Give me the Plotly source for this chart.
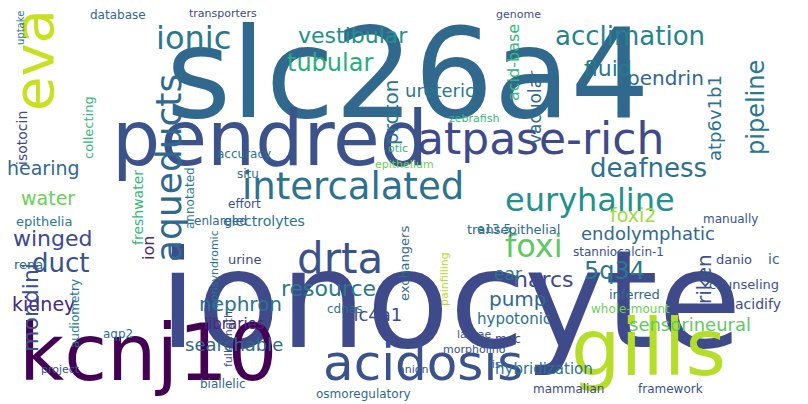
import plotly.graph_objects as go

# word cloud: word, centre x/y (pixels of the 808x404 picture), font size, vertical flag, colour
words = ["ionocyte", "slc26a4", "pendred", "gills", "kcnj10", "acidosis", "eva", "aqueducts",
         "ionic", "atpase-rich", "intercalated", "euryhaline", "deafness", "vestibular", "tubular",
         "acclimation", "fluid", "pendrin", "proton", "ureteric", "acid-base", "vacuolar",
         "atp6v1b1", "pipeline", "hearing", "water", "winged", "duct", "kidney", "drta", "foxi",
         "foxi2", "endolymphatic", "5q34", "narcs", "pump", "nephron", "resource", "mondini",
         "searchable", "slc4a1", "sensorineural", "riken", "hybridization", "osmoregulatory",
         "mammalian", "framework", "biallelic", "libraries", "audiometry", "isotocin",
         "transepithelial", "electrolytes", "stanniocalcin-1", "collecting", "annotated",
         "database", "transporters", "situ", "accuracy", "effort", "enlarged", "otic",
         "epithelium", "zebrafish", "hypotonic", "acidify", "counseling", "ic", "manually",
         "danio", "ear", "inferred", "mgc", "fish", "anion", "morpholino", "cdnas", "exchangers",
         "painfilling", "e13.5", "larvae", "nonsyndromic", "full-length", "renal", "epithelia",
         "urine", "aqp2", "project", "whole-mount", "ion", "freshwater", "uptake", "genome"]
xs = [442, 400, 262, 640, 140, 415, 25, 160, 185, 532, 345, 582, 640, 345, 322, 622, 600, 657,
      383, 432, 505, 527, 706, 748, 35, 40, 45, 52, 35, 332, 526, 625, 640, 606, 536, 510, 232,
      320, 22, 226, 365, 682, 696, 536, 355, 560, 662, 215, 226, 67, 14, 505, 256, 610, 80,
      182, 110, 215, 240, 236, 236, 212, 390, 396, 466, 506, 750, 736, 766, 722, 726, 500, 626,
      500, 490, 405, 466, 336, 396, 436, 486, 466, 206, 220, 22, 36, 236, 110, 52, 622, 140,
      130, 12, 510]
ys = [292, 65, 130, 340, 345, 355, 52, 160, 30, 130, 178, 192, 160, 27, 55, 28, 60, 70,
      105, 82, 55, 100, 110, 100, 160, 190, 230, 255, 296, 250, 238, 207, 225, 263, 271, 291, 296,
      280, 300, 336, 306, 316, 271, 361, 386, 381, 381, 376, 316, 306, 130, 221, 213, 244, 120,
      190, 7, 5, 166, 146, 196, 213, 140, 156, 110, 311, 296, 276, 251, 211, 251, 266, 286,
      331, 356, 361, 341, 301, 256, 271, 221, 326, 261, 331, 256, 213, 251, 326, 361, 301, 240,
      200, 20, 6]
sizes = [136, 125, 76, 78, 78, 50, 56, 36, 32, 44, 37, 32, 26, 22, 24, 26, 22, 20, 20, 18, 16,
         17, 18, 24, 19, 19, 22, 26, 19, 42, 32, 19, 18, 24, 22, 20, 20, 22, 22, 18, 18, 18, 20,
         15, 12, 12, 12, 12, 15, 12, 14, 13, 14, 12, 13, 12, 12, 11, 12, 12, 12, 12, 11, 11, 11,
         15, 14, 13, 14, 12, 13, 17, 13, 12, 11, 11, 11, 12, 13, 11, 12, 11, 11, 11, 13, 13, 13,
         12, 11, 12, 16, 14, 10, 11]
vertical = [0, 0, 0, 0, 0, 0, 1, 1, 0, 0, 0, 0, 0, 0, 0, 0, 0, 0, 1, 0, 1, 1, 1, 1, 0, 0, 0, 0, 0,
            0, 0, 0, 0, 0, 0, 0, 0, 0, 1, 0, 0, 0, 1, 0, 0, 0, 0, 0, 0, 1, 1, 0, 0, 0, 1, 1, 0, 0,
            0, 0, 0, 0, 0, 0, 0, 0, 0, 0, 0, 0, 0, 0, 0, 0, 0, 0, 0, 0, 1, 1, 0, 0, 1, 1, 0, 0, 0,
            0, 0, 0, 1, 1, 1, 0]
colors = ["#3e4a89", "#31688e", "#3b528b", "#b5de2b", "#440154", "#3b528b", "#c8e020", "#31688e",
          "#2a788e", "#3e4a89", "#2c728e", "#21918c", "#2c728e", "#21918c", "#27ad81", "#26828e",
          "#2a788e", "#31688e", "#2c728e", "#2a788e", "#35b779", "#31688e", "#2c728e", "#2a788e",
          "#31688e", "#6ece58", "#3e4a89", "#3b528b", "#482878", "#3b528b", "#5ec962", "#9fda3a",
          "#31688e", "#2a788e", "#3e4a89", "#31688e", "#2c728e", "#2a788e", "#3b528b", "#31688e",
          "#3e4a89", "#5ec962", "#3b528b", "#2c728e", "#31688e", "#3e4a89", "#3b528b", "#31688e",
          "#482878", "#2a788e", "#3e4a89", "#31688e", "#2c728e", "#3b528b", "#35b779", "#2a788e",
          "#31688e", "#3e4a89", "#31688e", "#2c728e", "#3b528b", "#31688e", "#35b779", "#6ece58",
          "#35b779", "#2c728e", "#3e4a89", "#3b528b", "#31688e", "#3b528b", "#3e4a89", "#2c728e",
          "#31688e", "#3e4a89", "#31688e", "#3b528b", "#3b528b", "#2c728e", "#31688e", "#b5de2b",
          "#2a788e", "#3b528b", "#2c728e", "#3b528b", "#31688e", "#2a788e", "#3e4a89", "#2c728e",
          "#3b528b", "#6ece58", "#482878", "#35b779", "#2a788e", "#3b528b"]

fig = go.Figure()
fig.add_trace(go.Scatter(x=[0, 808], y=[0, 404], mode="markers", marker=dict(opacity=0),
                         hoverinfo="skip", showlegend=False))
for w, x, y, s, v, c in zip(words, xs, ys, sizes, vertical, colors):
    fig.add_annotation(x=x, y=y, text=w, showarrow=False, textangle=-90 if v else 0,
                       font=dict(family="DejaVu Sans", size=s, color=c),
                       xanchor="center", yanchor="middle")

fig.update_xaxes(range=[0, 808], visible=False)
fig.update_yaxes(range=[404, 0], visible=False)
fig.update_layout(width=808, height=404, margin=dict(l=0, r=0, t=0, b=0),
                  plot_bgcolor="white", paper_bgcolor="white")
fig.write_html("out.html")
